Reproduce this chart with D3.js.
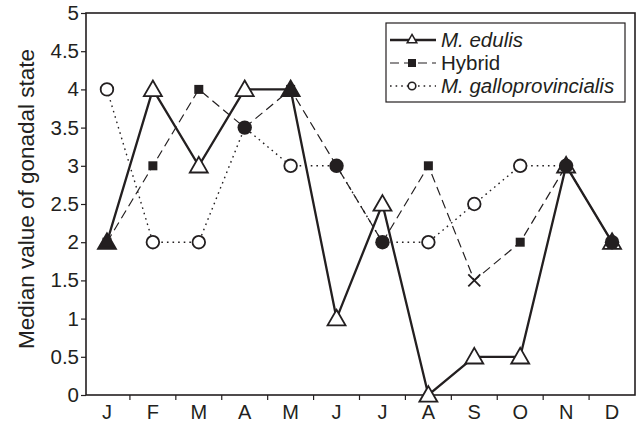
<!DOCTYPE html>
<html>
<head>
<meta charset="utf-8">
<script src="https://cdn.jsdelivr.net/npm/d3@7"></script>
<style>
  body { margin: 0; background: #fff; }
  text { font-family: "Liberation Sans", Arial, sans-serif; fill: #231f20; }
</style>
</head>
<body>
<svg id="chart"></svg>
<script>
// data
const months = ["J", "F", "M", "A", "M", "J", "J", "A", "S", "O", "N", "D"];
const edulis = [2, 4, 3, 4, 4, 1, 2.5, 0, 0.5, 0.5, 3, 2];
const hybrid = [2, 3, 4, 3.5, 4, 3, 2, 3, 1.5, 2, 3, 2];
const gallo = [4, 2, 2, 3.5, 3, 3, 2, 2, 2.5, 3, 3, 2];
const hybridCrossAt = [8]; // September point drawn as a cross
const yTicks = [0, 0.5, 1, 1.5, 2, 2.5, 3, 3.5, 4, 4.5, 5];

const W = 637, H = 426;
const margin = { top: 13, right: 2, bottom: 31, left: 86 };
const width = W - margin.left - margin.right;
const height = H - margin.top - margin.bottom;
const ink = "#231f20";

const svg = d3.select("#chart").attr("width", W).attr("height", H);
const g = svg.append("g").attr("transform", `translate(${margin.left},${margin.top})`);

const idx = d3.range(months.length);
const x = d3.scaleBand().domain(idx).range([-2, width]);
const y = d3.scaleLinear().domain([0, 5]).range([height, 0]);
const cx = (i) => x(i) + x.bandwidth() / 2;

// frame
g.append("rect")
  .attr("x", 0).attr("y", 0)
  .attr("width", width).attr("height", height)
  .attr("fill", "none").attr("stroke", ink).attr("stroke-width", 1.6);

// y axis
const yAxis = g.append("g")
  .call(d3.axisLeft(y).tickValues(yTicks).tickSize(5).tickPadding(2).tickFormat(d3.format("")));
yAxis.select(".domain").remove();
yAxis.selectAll("line").attr("stroke", ink).attr("stroke-width", 1.2);
yAxis.selectAll("text").attr("font-size", 20.5).attr("font-family", null).style("fill", ink);

// x axis: ticks at band boundaries, labels at centres
const xAxis = g.append("g").attr("transform", `translate(0,${height})`);
xAxis.selectAll("line")
  .data(idx.slice(1))
  .join("line")
  .attr("x1", (i) => x(i)).attr("x2", (i) => x(i))
  .attr("y1", 0).attr("y2", 5)
  .attr("stroke", ink).attr("stroke-width", 1.2);
xAxis.selectAll("text")
  .data(idx)
  .join("text")
  .attr("x", cx).attr("y", 24)
  .attr("text-anchor", "middle")
  .attr("font-size", 20)
  .text((i) => months[i]);

// y title
svg.append("text")
  .attr("transform", `translate(34,${margin.top + height / 2 - 5}) rotate(-90)`)
  .attr("text-anchor", "middle")
  .attr("font-size", 22.5)
  .text("Median value of gonadal state");

const line = d3.line().x((d, i) => cx(i)).y((d) => y(d));

const series = [
  { name: "M. edulis", italic: true, values: edulis, width: 2.3, dash: null, marker: "tri" },
  { name: "Hybrid", italic: false, values: hybrid, width: 1.2, dash: "9,5", marker: "sq" },
  { name: "M. galloprovincialis", italic: true, values: gallo, width: 1.4, dash: "1.6,4", marker: "circ" }
];

series.forEach((s) => {
  g.append("path")
    .datum(s.values)
    .attr("d", line)
    .attr("fill", "none")
    .attr("stroke", ink)
    .attr("stroke-width", s.width)
    .attr("stroke-dasharray", s.dash);
});

function drawMarker(sel, type, px, py) {
  if (type === "tri" || type === "triF") {
    sel.append("path")
      .attr("d", d3.symbol(d3.symbolTriangle, 140)())
      .attr("transform", `translate(${px},${py + 1.5})`)
      .attr("fill", type === "tri" ? "#fff" : ink)
      .attr("stroke", ink).attr("stroke-width", 1.8);
  } else if (type === "sq") {
    sel.append("rect")
      .attr("x", px - 4.5).attr("y", py - 4.5).attr("width", 9).attr("height", 9)
      .attr("fill", ink);
  } else if (type === "circ") {
    sel.append("circle")
      .attr("cx", px).attr("cy", py).attr("r", 6.3)
      .attr("fill", "#fff").attr("stroke", ink).attr("stroke-width", 1.8);
  } else if (type === "circF") {
    sel.append("circle")
      .attr("cx", px).attr("cy", py).attr("r", 7.2)
      .attr("fill", ink);
  } else if (type === "cross") {
    sel.append("path")
      .attr("d", "M-6,-6L6,6M-6,6L6,-6")
      .attr("transform", `translate(${px},${py})`)
      .attr("fill", "none").attr("stroke", ink).attr("stroke-width", 1.8);
  }
}

const marks = g.append("g");
idx.forEach((i) => {
  const px = cx(i);
  const e = edulis[i], h = hybrid[i], gl = gallo[i];
  const shared = h === gl;
  // M. edulis
  drawMarker(marks, e === h && !shared ? "triF" : "tri", px, y(e));
  // hybrid
  if (!shared) {
    drawMarker(marks, hybridCrossAt.includes(i) ? "cross" : "sq", px, y(h));
  }
  // galloprovincialis, filled where it meets the hybrid
  drawMarker(marks, shared ? "circF" : "circ", px, y(gl));
});

// legend
const lg = svg.append("g").attr("transform", "translate(386,23)");
lg.append("rect")
  .attr("width", 239).attr("height", 79)
  .attr("fill", "#fff").attr("stroke", ink).attr("stroke-width", 1.2);
series.forEach((s, k) => {
  const ry = 17 + k * 23;
  lg.append("line")
    .attr("x1", 4).attr("x2", 50).attr("y1", ry).attr("y2", ry)
    .attr("stroke", ink).attr("stroke-width", s.width)
    .attr("stroke-dasharray", s.dash);
  if (s.marker === "tri") {
    lg.append("path")
      .attr("d", d3.symbol(d3.symbolTriangle, 40)())
      .attr("transform", `translate(26,${ry})`)
      .attr("fill", "#fff").attr("stroke", ink).attr("stroke-width", 1.5);
  } else if (s.marker === "sq") {
    lg.append("rect").attr("x", 22).attr("y", ry - 4).attr("width", 8).attr("height", 8).attr("fill", ink);
  } else {
    lg.append("circle").attr("cx", 26).attr("cy", ry).attr("r", 3.8)
      .attr("fill", "#fff").attr("stroke", ink).attr("stroke-width", 1.6);
  }
  lg.append("text")
    .attr("x", 55).attr("y", ry + 7)
    .attr("font-size", 20.5)
    .attr("font-style", s.italic ? "italic" : "normal")
    .text(s.name);
});
</script>
</body>
</html>
